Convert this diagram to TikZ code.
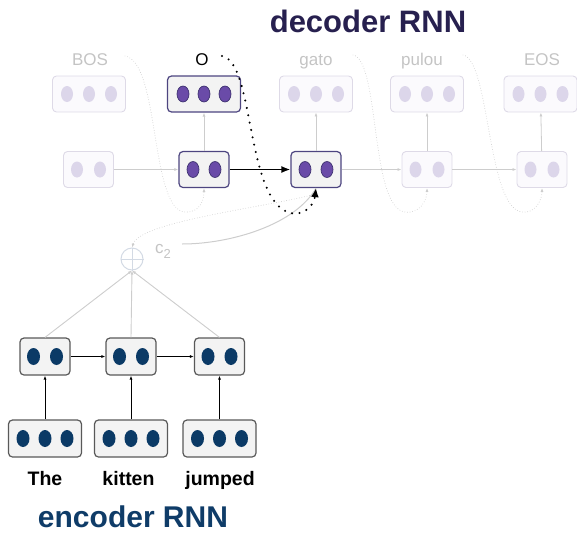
\documentclass[tikz,border=0pt]{standalone}
\usepackage{fontspec}
\setmainfont{Liberation Sans}
\usetikzlibrary{arrows.meta}
\usetikzlibrary{positioning, calc}

\definecolor{encblue}{HTML}{0B3A66}
\definecolor{decpurple}{HTML}{6A4BA8}
\definecolor{decedge}{HTML}{3E3270}
\definecolor{decframe}{HTML}{4D4580}
\definecolor{fadepurple}{HTML}{DCD6EA}
\definecolor{fadeframe}{HTML}{DEDAE7}
\definecolor{fadefill}{HTML}{FBFAFD}
\definecolor{fadetext}{HTML}{C4C4C4}
\definecolor{fadeline}{HTML}{CDCDCD}
\definecolor{boxfill}{HTML}{F3F3F3}
\definecolor{dectitle}{HTML}{27204F}
\definecolor{enctitle}{HTML}{0F3C68}
\definecolor{plusgrey}{HTML}{D3DAE4}

% dots inside a box: node, x offsets, style
\newcommand{\putdots}[3]{%
  \foreach \dx in {#2} {\path[#3] ($(#1)+(\dx,0)$) ellipse [];}}

\begin{document}
\begin{tikzpicture}[x=1pt,y=-1pt,
    box/.style={rounded corners=4pt, inner sep=0pt, minimum height=36pt},
    wide/.style={box, minimum width=73pt},
    slim/.style={box, minimum width=50pt},
    enc/.style={draw=black!65, line width=1.2pt, fill=boxfill},
    dec/.style={draw=decframe, line width=1.2pt, fill=boxfill},
    faded/.style={draw=fadeframe, line width=0.9pt, fill=fadefill},
    encdot/.style={fill=encblue, x radius=6.5, y radius=8.5},
    decdot/.style={fill=decpurple, draw=decedge, line width=0.7pt, x radius=6, y radius=8},
    fadedot/.style={fill=fadepurple, x radius=6, y radius=8},
    tip/.style={-{Latex[length=4pt,width=3pt]}},
    fadearrow/.style={tip, draw=fadeline, line width=0.8pt},
    encarrow/.style={tip, draw=black, line width=0.8pt},
    fadedots/.style={tip, draw=fadeline, line width=0.9pt, line cap=round, dash pattern=on 0pt off 2.6pt},
    bigdots/.style={draw=black, line width=2.3pt, line cap=round, dash pattern=on 0pt off 7.5pt, -{Latex[length=9pt,width=8pt]}},
    declabel/.style={anchor=base, inner sep=0pt, font=\fontsize{17}{17}\selectfont, text=fadetext},
    word/.style={anchor=base, inner sep=0pt, font=\bfseries\fontsize{19.5}{20}\selectfont},
  ]
  \useasboundingbox (0,0) rectangle (577,533);

  % TITLES
  \node[anchor=base, inner sep=0pt, text=dectitle, font=\bfseries\fontsize{31}{31}\selectfont] (dectitle) at (368,32) {decoder RNN};
  \node[anchor=base, inner sep=0pt, text=enctitle, font=\bfseries\fontsize{30}{30}\selectfont] (enctitle) at (133,527) {encoder RNN};

  % DECODER
  \node[declabel] (lab1) at (90,65) {BOS};
  \node[declabel, text=black] (lab2) at (202,65) {O};
  \node[declabel] (lab3) at (316,65) {gato};
  \node[declabel] (lab4) at (422,65) {pulou};
  \node[declabel] (lab5) at (542,65) {EOS};

  \node[wide, faded] (dout1) at (89,94) {};
  \node[wide, dec] (dout2) at (204,94) {};
  \node[wide, faded] (dout3) at (316,94) {};
  \node[wide, faded] (dout4) at (427,94) {};
  \node[wide, faded] (dout5) at (540.5,94) {};
  \putdots{dout1}{-22,0,22}{fadedot}
  \putdots{dout2}{-21,0,21}{decdot}
  \putdots{dout3}{-22,0,22}{fadedot}
  \putdots{dout4}{-22,0,22}{fadedot}
  \putdots{dout5}{-22,0,22}{fadedot}

  \node[slim, faded] (dhid1) at (88.5,169.5) {};
  \node[slim, dec] (dhid2) at (204,169.5) {};
  \node[slim, dec] (dhid3) at (316,169.5) {};
  \node[slim, faded] (dhid4) at (427,169.5) {};
  \node[slim, faded] (dhid5) at (542,169.5) {};
  \putdots{dhid1}{-11.5,11.5}{fadedot}
  \putdots{dhid2}{-11,11}{decdot}
  \putdots{dhid3}{-11,11}{decdot}
  \putdots{dhid4}{-11.5,11.5}{fadedot}
  \putdots{dhid5}{-11.5,11.5}{fadedot}

  \draw[fadearrow] (dhid1) -- (dhid2);
  \draw[black, line width=1.6pt, -{Latex[length=9pt,width=7pt]}] (dhid2) -- (dhid3);
  \draw[fadearrow] (dhid3) -- (dhid4);
  \draw[fadearrow] (dhid4) -- (dhid5);
  \foreach \i in {2,...,5}
    \draw[fadearrow] (dhid\i) -- (dout\i);

  % feeding the previous word back in
  \coordinate (fb1) at (125,56);
  \coordinate (fb2) at (222,56);
  \coordinate (fb3) at (353,55);
  \coordinate (fb4) at (463,55);
  \draw[fadedots] (fb1) .. controls (160,62) and (150,210) .. (185,212) .. controls (200,213) and (204,200) .. (dhid2.south);
  \draw[fadedots] (fb3) .. controls (380,60) and (370,208) .. (405,212) .. controls (420,214) and (427,200) .. (dhid4.south);
  \draw[fadedots] (fb4) .. controls (490,60) and (487,208) .. (522,212) .. controls (535,214) and (542,200) .. (dhid5.south);

  % ATTENTION
  \node[circle, draw=plusgrey, line width=1pt, minimum size=22pt, inner sep=0pt] (plus) at (132,259) {};
  \draw[plusgrey, line width=1pt] (plus.north) -- (plus.south) (plus.west) -- (plus.east);
  \node[anchor=base west, inner sep=0pt, text=fadetext, font=\fontsize{17}{17}\selectfont] (ctx) at (155,253) {c\raisebox{-5pt}{\fontsize{13}{13}\selectfont 2}};

  \coordinate (cq) at (182,244);
  \coordinate (hq) at (312,195);
  \draw[fadeline, line width=1pt] (cq) .. controls (230,244) and (295,225) .. (dhid3.south);
  \draw[fadedots] (hq) .. controls (260,208) and (140,222) .. (plus.north);
  \draw[bigdots] (fb2) .. controls (255,62) and (245,200) .. (290,213) .. controls (305,216) and (314,205) .. (dhid3.south);

  % ENCODER
  \node[slim, enc, minimum height=37pt] (ehid1) at (45,356.5) {};
  \node[slim, enc, minimum height=37pt] (ehid2) at (131,356.5) {};
  \node[slim, enc, minimum height=37pt] (ehid3) at (219.5,356.5) {};
  \node[wide, enc, minimum height=37pt] (ein1) at (45,438.5) {};
  \node[wide, enc, minimum height=37pt] (ein2) at (131,438.5) {};
  \node[wide, enc, minimum height=37pt] (ein3) at (219.5,438.5) {};
  \foreach \i in {1,2,3} {
    \putdots{ehid\i}{-11.5,11.5}{encdot}
    \putdots{ein\i}{-22,0,22}{encdot}
  }

  \node[word] (w1) at (45,485) {The};
  \node[word] (w2) at (128.5,485) {kitten};
  \node[word] (w3) at (220,485) {jumped};

  \foreach \i in {1,2,3} {
    \draw[encarrow] (ein\i) -- (ehid\i);
    \draw[tip, fadeline, line width=0.9pt] (ehid\i.north) -- (plus.south);
  }
  \draw[encarrow] (ehid1) -- (ehid2);
  \draw[encarrow] (ehid2) -- (ehid3);
\end{tikzpicture}
\end{document}
